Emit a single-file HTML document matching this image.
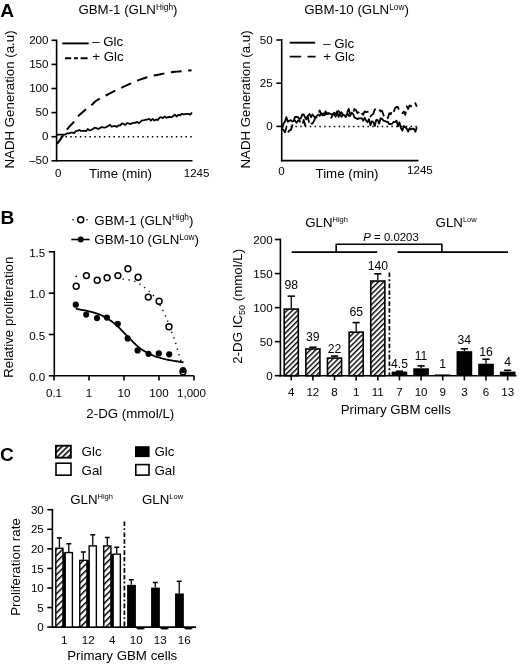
<!DOCTYPE html>
<html><head><meta charset="utf-8"><style>
html,body{margin:0;padding:0;background:#fff;}
svg{display:block;font-family:"Liberation Sans", sans-serif;filter:grayscale(1) blur(0.3px);}
text{fill:#000;}
</style></head><body>
<svg width="520" height="664" viewBox="0 0 520 664">
<rect width="520" height="664" fill="#fff"/>
<defs><pattern id="h" patternUnits="userSpaceOnUse" width="3.7" height="3.7" patternTransform="rotate(45)"><rect width="3.7" height="3.7" fill="#fff"/><rect x="0" y="0" width="1.4" height="3.7" fill="#000"/></pattern><pattern id="h2" patternUnits="userSpaceOnUse" width="4.5" height="4.5" patternTransform="rotate(45)"><rect width="4.5" height="4.5" fill="#fff"/><rect x="0" y="0" width="1.45" height="4.5" fill="#000"/></pattern><pattern id="h3" patternUnits="userSpaceOnUse" width="3.9" height="3.9" patternTransform="rotate(45)"><rect width="3.9" height="3.9" fill="#fff"/><rect x="0" y="0" width="1.55" height="3.9" fill="#000"/></pattern></defs>
<text x="0.20" y="16.80" font-size="19.2" text-anchor="start" font-weight="bold" >A</text>
<text x="0.40" y="223.90" font-size="19.2" text-anchor="start" font-weight="bold" >B</text>
<text x="0.00" y="460.60" font-size="19.2" text-anchor="start" font-weight="bold" >C</text>
<text x="78.40" y="14.00" font-size="13.3" text-anchor="start" font-weight="normal" >GBM-1 (GLN<tspan font-size="8.3" dy="-4.4">High</tspan><tspan dy="4.4">)</tspan></text>
<line x1="56.60" y1="39.60" x2="56.60" y2="161.60" stroke="#000" stroke-width="1.6" />
<line x1="55.80" y1="160.80" x2="192.50" y2="160.80" stroke="#000" stroke-width="1.6" />
<line x1="51.50" y1="40.30" x2="56.60" y2="40.30" stroke="#000" stroke-width="1.6" />
<text x="48.50" y="43.80" font-size="11.6" text-anchor="end" font-weight="normal" >200</text>
<line x1="51.50" y1="64.40" x2="56.60" y2="64.40" stroke="#000" stroke-width="1.6" />
<text x="48.50" y="67.90" font-size="11.6" text-anchor="end" font-weight="normal" >150</text>
<line x1="51.50" y1="88.50" x2="56.60" y2="88.50" stroke="#000" stroke-width="1.6" />
<text x="48.50" y="92.00" font-size="11.6" text-anchor="end" font-weight="normal" >100</text>
<line x1="51.50" y1="112.60" x2="56.60" y2="112.60" stroke="#000" stroke-width="1.6" />
<text x="48.50" y="116.10" font-size="11.6" text-anchor="end" font-weight="normal" >50</text>
<line x1="51.50" y1="136.70" x2="56.60" y2="136.70" stroke="#000" stroke-width="1.6" />
<text x="48.50" y="140.20" font-size="11.6" text-anchor="end" font-weight="normal" >0</text>
<line x1="51.50" y1="160.80" x2="56.60" y2="160.80" stroke="#000" stroke-width="1.6" />
<text x="48.50" y="164.30" font-size="11.6" text-anchor="end" font-weight="normal" >–50</text>
<text x="58.30" y="177.20" font-size="11.6" text-anchor="middle" font-weight="normal" >0</text>
<text x="196.60" y="176.60" font-size="11.6" text-anchor="middle" font-weight="normal" >1245</text>
<text x="89.00" y="178.30" font-size="13.3" text-anchor="start" font-weight="normal" >Time (min)</text>
<text x="0.00" y="0.00" font-size="13.3" text-anchor="middle" font-weight="normal" transform="translate(13.8,99.5) rotate(-90)">NADH Generation (a.u)</text>
<line x1="60.65" y1="136.70" x2="192.50" y2="136.70" stroke="#000" stroke-width="1.5" stroke-dasharray="1.5 3.3"/>
<line x1="62.30" y1="43.40" x2="88.70" y2="43.40" stroke="#000" stroke-width="1.9" />
<line x1="65.00" y1="58.20" x2="88.00" y2="58.20" stroke="#000" stroke-width="1.9" stroke-dasharray="6.2 2.7 4 2.7 7"/>
<text x="92.20" y="46.20" font-size="13.3" text-anchor="start" font-weight="normal" >– Glc</text>
<text x="92.20" y="60.80" font-size="13.3" text-anchor="start" font-weight="normal" >+ Glc</text>
<path d="M57.00,144.00 L58.06,142.54 L59.14,141.06 L60.22,139.57 L61.27,138.12 L62.28,136.72 L63.20,135.40 L63.99,134.20 L64.66,133.10 L65.28,132.06 L65.91,131.03 L66.63,129.96 L67.50,128.80 L68.58,127.52 L69.83,126.14 L71.16,124.73 L72.49,123.33 L73.73,122.00 L74.80,120.80 L75.63,119.77 L76.27,118.88 L76.82,118.06 L77.40,117.24 L78.09,116.38 L79.00,115.40 L80.21,114.25 L81.64,112.98 L83.20,111.66 L84.77,110.35 L86.24,109.14 L87.50,108.10 L88.54,107.25 L89.45,106.54 L90.26,105.93 L91.01,105.37 L91.75,104.80 L92.50,104.20 L93.14,103.60 L93.63,103.06 L94.09,102.53 L94.67,101.94 L95.53,101.25 L96.80,100.40 L98.51,99.38 L100.54,98.24 L102.85,96.99 L105.37,95.66 L108.04,94.29 L110.80,92.90 L113.76,91.43 L117.00,89.86 L120.38,88.23 L123.80,86.62 L127.15,85.09 L130.30,83.70 L133.21,82.45 L135.97,81.28 L138.65,80.19 L141.33,79.17 L144.09,78.21 L147.00,77.30 L150.17,76.44 L153.55,75.64 L157.01,74.91 L160.41,74.23 L163.62,73.63 L166.50,73.10 L168.99,72.67 L171.18,72.33 L173.18,72.06 L175.09,71.83 L176.99,71.62 L179.00,71.40 L181.09,71.18 L183.19,70.99 L185.29,70.81 L187.40,70.64 L189.50,70.48 L191.60,70.30" fill="none" stroke="#000" stroke-width="2.0" stroke-linejoin="round" stroke-dasharray="10.8 6.6"/>
<path d="M57.00,134.77 L58.71,134.72 L60.42,134.68 L62.13,134.63 L63.84,134.58 L65.54,134.53 L67.25,133.34 L68.96,133.43 L70.67,132.71 L72.38,132.72 L74.09,133.03 L75.80,131.15 L77.51,130.86 L79.22,129.97 L80.92,130.88 L82.63,130.92 L84.34,130.74 L86.05,131.17 L87.76,129.06 L89.47,130.29 L91.18,130.07 L92.89,129.08 L94.59,127.57 L96.30,128.20 L98.01,128.83 L99.72,128.33 L101.43,127.09 L103.14,127.38 L104.85,127.54 L106.56,126.88 L108.27,125.90 L109.97,124.74 L111.68,126.79 L113.39,126.08 L115.10,125.93 L116.81,126.83 L118.52,125.48 L120.23,125.28 L121.94,123.46 L123.65,124.10 L125.35,124.91 L127.06,123.00 L128.77,123.46 L130.48,124.19 L132.19,123.10 L133.90,122.83 L135.61,122.77 L137.32,121.85 L139.03,123.23 L140.73,121.54 L142.44,120.35 L144.15,120.20 L145.86,119.75 L147.57,119.48 L149.28,118.95 L150.99,120.57 L152.70,118.89 L154.41,120.59 L156.11,119.42 L157.82,120.10 L159.53,117.70 L161.24,117.24 L162.95,118.08 L164.66,116.40 L166.37,117.91 L168.08,117.05 L169.78,116.79 L171.49,117.41 L173.20,116.07 L174.91,114.73 L176.62,116.61 L178.33,114.96 L180.04,115.47 L181.75,113.82 L183.46,114.49 L185.16,114.10 L186.87,113.87 L188.58,113.90 L190.29,114.83 L192.00,112.56" fill="none" stroke="#000" stroke-width="1.8" stroke-linejoin="round" />
<text x="304.20" y="14.00" font-size="13.3" text-anchor="start" font-weight="normal" >GBM-10 (GLN<tspan font-size="8.3" dy="-4.4">Low</tspan><tspan dy="4.4">)</tspan></text>
<line x1="281.70" y1="39.10" x2="281.70" y2="161.40" stroke="#000" stroke-width="1.6" />
<line x1="280.90" y1="160.60" x2="418.50" y2="160.60" stroke="#000" stroke-width="1.6" />
<line x1="276.40" y1="40.00" x2="281.70" y2="40.00" stroke="#000" stroke-width="1.6" />
<text x="272.60" y="43.50" font-size="11.6" text-anchor="end" font-weight="normal" >50</text>
<line x1="276.40" y1="83.20" x2="281.70" y2="83.20" stroke="#000" stroke-width="1.6" />
<text x="272.60" y="86.70" font-size="11.6" text-anchor="end" font-weight="normal" >25</text>
<line x1="276.40" y1="126.40" x2="281.70" y2="126.40" stroke="#000" stroke-width="1.6" />
<text x="272.60" y="129.90" font-size="11.6" text-anchor="end" font-weight="normal" >0</text>
<text x="281.50" y="174.50" font-size="11.6" text-anchor="middle" font-weight="normal" >0</text>
<text x="419.90" y="174.20" font-size="11.6" text-anchor="middle" font-weight="normal" >1245</text>
<text x="315.50" y="178.30" font-size="13.3" text-anchor="start" font-weight="normal" >Time (min)</text>
<text x="0.00" y="0.00" font-size="13.3" text-anchor="middle" font-weight="normal" transform="translate(249.7,99.5) rotate(-90)">NADH Generation (a.u)</text>
<line x1="285.75" y1="126.40" x2="418.50" y2="126.40" stroke="#000" stroke-width="1.5" stroke-dasharray="1.5 3.3"/>
<line x1="289.70" y1="42.70" x2="315.20" y2="42.70" stroke="#000" stroke-width="1.9" />
<line x1="289.70" y1="56.60" x2="315.60" y2="56.60" stroke="#000" stroke-width="1.9" stroke-dasharray="11.5 6.4 8"/>
<text x="323.20" y="47.60" font-size="13.3" text-anchor="start" font-weight="normal" >– Glc</text>
<text x="323.20" y="61.20" font-size="13.3" text-anchor="start" font-weight="normal" >+ Glc</text>
<path d="M282.00,129.32 L283.45,123.76 L284.90,121.70 L286.35,117.13 L287.80,121.81 L289.25,120.87 L290.70,120.08 L292.15,121.30 L293.60,121.09 L295.05,116.86 L296.50,116.80 L297.95,117.17 L299.40,118.98 L300.85,118.37 L302.30,114.49 L303.75,114.51 L305.20,117.70 L306.65,118.96 L308.10,115.58 L309.55,114.00 L311.00,117.21 L312.45,114.44 L313.90,116.31 L315.35,117.77 L316.80,115.92 L318.25,114.76 L319.70,115.91 L321.15,113.24 L322.60,114.07 L324.05,113.27 L325.50,113.93 L326.95,113.34 L328.40,113.87 L329.85,113.45 L331.30,114.29 L332.75,114.20 L334.20,114.59 L335.65,116.73 L337.10,111.27 L338.55,116.82 L340.00,114.05 L341.45,112.30 L342.90,114.46 L344.35,115.11 L345.80,117.11 L347.25,113.21 L348.70,115.78 L350.15,115.76 L351.60,112.63 L353.05,113.88 L354.50,117.58 L355.95,118.06 L357.40,119.11 L358.85,118.36 L360.30,118.40 L361.75,118.18 L363.20,120.83 L364.65,117.58 L366.10,120.55 L367.55,122.20 L369.00,119.11 L370.45,125.25 L371.90,121.23 L373.35,122.18 L374.80,125.99 L376.25,119.89 L377.70,120.04 L379.15,123.59 L380.60,118.15 L382.05,118.96 L383.50,120.65 L384.95,121.02 L386.40,121.76 L387.85,121.82 L389.30,124.16 L390.75,124.01 L392.20,123.70 L393.65,121.75 L395.10,122.19 L396.55,120.65 L398.00,126.31 L399.45,122.26 L400.90,128.12 L402.35,130.68 L403.80,125.88 L405.25,127.32 L406.70,128.45 L408.15,131.56 L409.60,128.20 L411.05,129.45 L412.50,128.56 L413.95,128.93 L415.40,131.71 L416.85,127.28" fill="none" stroke="#000" stroke-width="1.8" stroke-linejoin="round" />
<path d="M282.00,128.67 L283.45,130.06 L284.90,132.37 L286.35,127.79 L287.80,132.78 L289.25,130.42 L290.70,130.16 L292.15,126.31 L293.60,120.27 L295.05,120.71 L296.50,122.86 L297.95,120.70 L299.40,120.20 L300.85,124.33 L302.30,125.02 L303.75,119.94 L305.20,125.50 L306.65,116.91 L308.10,117.61 L309.55,125.45 L311.00,123.57 L312.45,123.48 L313.90,121.21 L315.35,117.65 L316.80,117.39 L318.25,114.36 L319.70,110.32 L321.15,114.53 L322.60,114.45 L324.05,118.40 L325.50,111.29 L326.95,114.04 L328.40,112.98 L329.85,113.68 L331.30,117.90 L332.75,114.73 L334.20,112.61 L335.65,113.99 L337.10,115.37 L338.55,111.04 L340.00,112.70 L341.45,116.94 L342.90,115.19 L344.35,112.94 L345.80,111.77 L347.25,112.41 L348.70,108.91 L350.15,114.75 L351.60,113.16 L353.05,112.53 L354.50,108.94 L355.95,110.19 L357.40,112.99 L358.85,112.23 L360.30,110.40 L361.75,113.25 L363.20,114.75 L364.65,111.32 L366.10,112.12 L367.55,111.75 L369.00,111.52 L370.45,116.28 L371.90,114.85 L373.35,113.70 L374.80,109.33 L376.25,108.90 L377.70,110.50 L379.15,109.12 L380.60,111.52 L382.05,110.68 L383.50,115.04 L384.95,118.91 L386.40,118.83 L387.85,117.97 L389.30,113.26 L390.75,114.29 L392.20,110.16 L393.65,112.25 L395.10,108.12 L396.55,106.84 L398.00,107.12 L399.45,111.74 L400.90,112.11 L402.35,113.30 L403.80,111.51 L405.25,114.91 L406.70,106.28 L408.15,108.97 L409.60,105.34 L411.05,106.35 L412.50,105.87 L413.95,102.55 L415.40,103.29 L416.85,106.75" fill="none" stroke="#000" stroke-width="1.8" stroke-linejoin="round" stroke-dasharray="10 5"/>
<line x1="54.30" y1="251.02" x2="54.30" y2="376.60" stroke="#000" stroke-width="1.6" />
<line x1="53.50" y1="375.80" x2="194.20" y2="375.80" stroke="#000" stroke-width="1.6" />
<line x1="48.80" y1="375.80" x2="54.30" y2="375.80" stroke="#000" stroke-width="1.6" />
<text x="45.30" y="380.90" font-size="11.6" text-anchor="end" font-weight="normal" >0.0</text>
<line x1="48.80" y1="334.48" x2="54.30" y2="334.48" stroke="#000" stroke-width="1.6" />
<text x="45.30" y="339.58" font-size="11.6" text-anchor="end" font-weight="normal" >0.5</text>
<line x1="48.80" y1="293.15" x2="54.30" y2="293.15" stroke="#000" stroke-width="1.6" />
<text x="45.30" y="298.25" font-size="11.6" text-anchor="end" font-weight="normal" >1.0</text>
<line x1="48.80" y1="251.82" x2="54.30" y2="251.82" stroke="#000" stroke-width="1.6" />
<text x="45.30" y="256.93" font-size="11.6" text-anchor="end" font-weight="normal" >1.5</text>
<line x1="54.00" y1="375.80" x2="54.00" y2="380.60" stroke="#000" stroke-width="1.6" />
<text x="54.00" y="397.00" font-size="11.6" text-anchor="middle" font-weight="normal" >0.1</text>
<line x1="89.00" y1="375.80" x2="89.00" y2="380.60" stroke="#000" stroke-width="1.6" />
<text x="89.00" y="397.00" font-size="11.6" text-anchor="middle" font-weight="normal" >1</text>
<line x1="124.00" y1="375.80" x2="124.00" y2="380.60" stroke="#000" stroke-width="1.6" />
<text x="124.00" y="397.00" font-size="11.6" text-anchor="middle" font-weight="normal" >10</text>
<line x1="159.00" y1="375.80" x2="159.00" y2="380.60" stroke="#000" stroke-width="1.6" />
<text x="159.00" y="397.00" font-size="11.6" text-anchor="middle" font-weight="normal" >100</text>
<line x1="194.00" y1="375.80" x2="194.00" y2="380.60" stroke="#000" stroke-width="1.6" />
<text x="191.50" y="397.00" font-size="11.6" text-anchor="middle" font-weight="normal" >1,000</text>
<text x="130.30" y="418.40" font-size="13.3" text-anchor="middle" font-weight="normal" >2-DG (mmol/L)</text>
<text x="0.00" y="0.00" font-size="13.3" text-anchor="middle" font-weight="normal" transform="translate(13.4,317.2) rotate(-90)">Relative proliferation</text>
<circle cx="73" cy="219.8" r="0.8" fill="#000"/><circle cx="87" cy="219.8" r="0.8" fill="#000"/>
<circle cx="80.7" cy="219.8" r="3.0" fill="#fff" stroke="#000" stroke-width="1.5"/>
<line x1="71.30" y1="239.50" x2="89.60" y2="239.50" stroke="#000" stroke-width="1.6" />
<circle cx="80.7" cy="239.5" r="3" fill="#000"/>
<text x="94.30" y="224.60" font-size="13.3" text-anchor="start" font-weight="normal" >GBM-1 (GLN<tspan font-size="8.3" dy="-4.4">High</tspan><tspan dy="4.4">)</tspan></text>
<text x="94.30" y="244.30" font-size="13.3" text-anchor="start" font-weight="normal" >GBM-10 (GLN<tspan font-size="8.3" dy="-4.4">Low</tspan><tspan dy="4.4">)</tspan></text>
<path d="M75.80,308.80 L78.00,309.23 L80.26,309.65 L82.54,310.06 L84.81,310.48 L87.04,310.91 L89.18,311.35 L91.22,311.81 L93.10,312.30 L94.81,312.80 L96.38,313.29 L97.83,313.79 L99.21,314.31 L100.54,314.87 L101.85,315.48 L103.20,316.15 L104.60,316.90 L106.05,317.72 L107.50,318.60 L108.95,319.53 L110.40,320.52 L111.85,321.56 L113.30,322.65 L114.75,323.80 L116.20,325.00 L117.64,326.28 L119.08,327.65 L120.52,329.08 L121.96,330.56 L123.39,332.07 L124.83,333.57 L126.26,335.06 L127.70,336.50 L129.14,337.94 L130.57,339.40 L132.01,340.88 L133.44,342.34 L134.88,343.76 L136.32,345.13 L137.76,346.42 L139.20,347.60 L140.65,348.68 L142.10,349.69 L143.55,350.62 L145.00,351.49 L146.45,352.31 L147.90,353.08 L149.35,353.80 L150.80,354.50 L152.24,355.15 L153.68,355.74 L155.12,356.29 L156.55,356.79 L157.98,357.25 L159.42,357.69 L160.86,358.10 L162.30,358.50 L163.76,358.87 L165.24,359.21 L166.73,359.52 L168.22,359.80 L169.69,360.06 L171.14,360.31 L172.55,360.56 L173.90,360.80 L175.20,361.03 L176.44,361.25 L177.65,361.45 L178.82,361.64 L179.99,361.83 L181.15,362.02 L182.31,362.20 L183.50,362.40" fill="none" stroke="#000" stroke-width="1.8" stroke-linejoin="round" />
<circle cx="76.2" cy="276.4" r="0.8" fill="#000"/>
<path d="M122.60,279.00 L122.95,279.05 L123.28,279.09 L123.59,279.12 L123.91,279.16 L124.26,279.21 L124.64,279.26 L125.08,279.32 L125.60,279.40 L126.21,279.49 L126.91,279.59 L127.67,279.70 L128.46,279.81 L129.28,279.94 L130.09,280.08 L130.87,280.23 L131.60,280.40 L132.28,280.57 L132.94,280.74 L133.57,280.92 L134.19,281.11 L134.82,281.32 L135.46,281.57 L136.11,281.86 L136.80,282.20 L137.52,282.60 L138.26,283.04 L139.02,283.53 L139.79,284.06 L140.57,284.60 L141.35,285.16 L142.13,285.73 L142.90,286.30 L143.67,286.87 L144.45,287.46 L145.23,288.06 L146.01,288.68 L146.78,289.30 L147.54,289.93 L148.28,290.56 L149.00,291.20 L149.68,291.81 L150.33,292.38 L150.95,292.94 L151.56,293.51 L152.17,294.13 L152.81,294.81 L153.48,295.60 L154.20,296.50 L154.98,297.53 L155.80,298.66 L156.66,299.88 L157.54,301.17 L158.43,302.53 L159.31,303.93 L160.17,305.35 L161.00,306.80 L161.81,308.30 L162.61,309.87 L163.41,311.50 L164.20,313.16 L164.97,314.83 L165.71,316.49 L166.42,318.12 L167.10,319.70 L167.74,321.25 L168.34,322.79 L168.92,324.33 L169.47,325.84 L170.00,327.33 L170.51,328.77 L171.01,330.17 L171.50,331.50 L171.98,332.76 L172.44,333.95 L172.88,335.08 L173.31,336.18 L173.73,337.25 L174.13,338.32 L174.52,339.39 L174.90,340.50 L175.26,341.63 L175.61,342.75 L175.93,343.88 L176.25,345.01 L176.56,346.13 L176.87,347.26 L177.18,348.38 L177.50,349.50 L177.83,350.63 L178.15,351.77 L178.48,352.92 L178.81,354.07 L179.14,355.20 L179.46,356.30 L179.78,357.37 L180.10,358.40 L180.41,359.37 L180.71,360.30 L181.01,361.19 L181.31,362.06 L181.61,362.92 L181.90,363.77 L182.20,364.62 L182.50,365.50" fill="none" stroke="#000" stroke-width="1.4" stroke-linejoin="round" stroke-dasharray="1.3 4.6"/>
<circle cx="75.8" cy="304.7" r="3.1" fill="#000"/>
<circle cx="86.2" cy="314.6" r="3.1" fill="#000"/>
<circle cx="97" cy="318.1" r="3.1" fill="#000"/>
<circle cx="106.9" cy="317.6" r="3.1" fill="#000"/>
<circle cx="117.8" cy="323.8" r="3.1" fill="#000"/>
<circle cx="127.7" cy="338.4" r="3.1" fill="#000"/>
<circle cx="137.6" cy="350.4" r="3.1" fill="#000"/>
<circle cx="148.5" cy="353.8" r="3.1" fill="#000"/>
<circle cx="158.8" cy="353.4" r="3.1" fill="#000"/>
<circle cx="169.2" cy="354.3" r="3.1" fill="#000"/>
<circle cx="183.1" cy="370" r="3.1" fill="#000"/>
<circle cx="76.2" cy="286.3" r="2.95" fill="#fff" fill-opacity="1" stroke="#000" stroke-width="1.5"/>
<circle cx="86.4" cy="275.6" r="2.95" fill="#fff" fill-opacity="1" stroke="#000" stroke-width="1.5"/>
<circle cx="97.2" cy="280.2" r="2.95" fill="#fff" fill-opacity="1" stroke="#000" stroke-width="1.5"/>
<circle cx="107.1" cy="277.7" r="2.95" fill="#fff" fill-opacity="1" stroke="#000" stroke-width="1.5"/>
<circle cx="117.9" cy="275.6" r="2.95" fill="#fff" fill-opacity="1" stroke="#000" stroke-width="1.5"/>
<circle cx="127.9" cy="268.8" r="2.95" fill="#fff" fill-opacity="1" stroke="#000" stroke-width="1.5"/>
<circle cx="138.1" cy="277.2" r="2.95" fill="#fff" fill-opacity="1" stroke="#000" stroke-width="1.5"/>
<circle cx="148.3" cy="297.1" r="2.95" fill="#fff" fill-opacity="1" stroke="#000" stroke-width="1.5"/>
<circle cx="159.1" cy="301.2" r="2.95" fill="#fff" fill-opacity="1" stroke="#000" stroke-width="1.5"/>
<circle cx="169" cy="326.7" r="2.95" fill="#fff" fill-opacity="1" stroke="#000" stroke-width="1.5"/>
<circle cx="183" cy="371.7" r="2.95" fill="#fff" fill-opacity="0" stroke="#000" stroke-width="1.5"/>
<line x1="280.40" y1="238.70" x2="280.40" y2="376.50" stroke="#000" stroke-width="1.6" />
<line x1="279.60" y1="375.70" x2="516.50" y2="375.70" stroke="#000" stroke-width="1.6" />
<line x1="274.80" y1="375.70" x2="280.40" y2="375.70" stroke="#000" stroke-width="1.6" />
<text x="272.70" y="380.30" font-size="11.6" text-anchor="end" font-weight="normal" >0</text>
<line x1="274.80" y1="341.65" x2="280.40" y2="341.65" stroke="#000" stroke-width="1.6" />
<text x="272.70" y="346.25" font-size="11.6" text-anchor="end" font-weight="normal" >50</text>
<line x1="274.80" y1="307.60" x2="280.40" y2="307.60" stroke="#000" stroke-width="1.6" />
<text x="272.70" y="312.20" font-size="11.6" text-anchor="end" font-weight="normal" >100</text>
<line x1="274.80" y1="273.55" x2="280.40" y2="273.55" stroke="#000" stroke-width="1.6" />
<text x="272.70" y="278.15" font-size="11.6" text-anchor="end" font-weight="normal" >150</text>
<line x1="274.80" y1="239.50" x2="280.40" y2="239.50" stroke="#000" stroke-width="1.6" />
<text x="272.70" y="244.10" font-size="11.6" text-anchor="end" font-weight="normal" >200</text>
<text x="0.00" y="0.00" font-size="13.3" text-anchor="middle" font-weight="normal" transform="translate(242.2,306.3) rotate(-90)">2-DG IC<tspan font-size="9" dy="2.5">50</tspan><tspan dy="-2.5"> (mmol/L)</tspan></text>
<text x="395.80" y="414.30" font-size="13.3" text-anchor="middle" font-weight="normal" >Primary GBM cells</text>
<text x="305.20" y="226.50" font-size="13.3" text-anchor="start" font-weight="normal" >GLN<tspan font-size="7.5" dy="-4.2">High</tspan></text>
<text x="435.60" y="226.50" font-size="13.3" text-anchor="start" font-weight="normal" >GLN<tspan font-size="7.5" dy="-4.2">Low</tspan></text>
<path d="M291.70,252.10 L377.20,252.10" fill="none" stroke="#000" stroke-width="1.6" stroke-linejoin="round" />
<path d="M397.50,252.10 L508.00,252.10" fill="none" stroke="#000" stroke-width="1.6" stroke-linejoin="round" />
<path d="M336.20,252.10 L336.20,244.30 L441.90,244.30 L441.90,252.10" fill="none" stroke="#000" stroke-width="1.6" stroke-linejoin="round" />
<text x="363.30" y="240.60" font-size="11.4" text-anchor="start" font-weight="normal" ><tspan font-style="italic">P</tspan> = 0.0203</text>
<line x1="291.25" y1="296.16" x2="291.25" y2="308.28" stroke="#000" stroke-width="1.3" />
<line x1="287.65" y1="296.16" x2="294.85" y2="296.16" stroke="#000" stroke-width="1.6" />
<rect x="284.20" y="309.08" width="14.10" height="66.62" fill="url(#h)" stroke="#000" stroke-width="1.6" />
<line x1="291.25" y1="375.70" x2="291.25" y2="380.40" stroke="#000" stroke-width="1.6" />
<text x="291.25" y="395.90" font-size="11.6" text-anchor="middle" font-weight="normal" >4</text>
<text x="291.25" y="289.00" font-size="12.2" text-anchor="middle" font-weight="normal" >98</text>
<line x1="312.89" y1="347.23" x2="312.89" y2="348.19" stroke="#000" stroke-width="1.3" />
<line x1="309.29" y1="347.23" x2="316.49" y2="347.23" stroke="#000" stroke-width="1.6" />
<rect x="305.84" y="348.99" width="14.10" height="26.71" fill="url(#h)" stroke="#000" stroke-width="1.6" />
<line x1="312.89" y1="375.70" x2="312.89" y2="380.40" stroke="#000" stroke-width="1.6" />
<text x="312.89" y="395.90" font-size="11.6" text-anchor="middle" font-weight="normal" >12</text>
<text x="312.89" y="341.00" font-size="12.2" text-anchor="middle" font-weight="normal" >39</text>
<line x1="334.53" y1="356.09" x2="334.53" y2="357.31" stroke="#000" stroke-width="1.3" />
<line x1="330.93" y1="356.09" x2="338.13" y2="356.09" stroke="#000" stroke-width="1.6" />
<rect x="327.48" y="358.11" width="14.10" height="17.59" fill="url(#h)" stroke="#000" stroke-width="1.6" />
<line x1="334.53" y1="375.70" x2="334.53" y2="380.40" stroke="#000" stroke-width="1.6" />
<text x="334.53" y="395.90" font-size="11.6" text-anchor="middle" font-weight="normal" >8</text>
<text x="334.53" y="352.50" font-size="12.2" text-anchor="middle" font-weight="normal" >22</text>
<line x1="356.17" y1="322.58" x2="356.17" y2="331.37" stroke="#000" stroke-width="1.3" />
<line x1="352.57" y1="322.58" x2="359.77" y2="322.58" stroke="#000" stroke-width="1.6" />
<rect x="349.12" y="332.17" width="14.10" height="43.53" fill="url(#h)" stroke="#000" stroke-width="1.6" />
<line x1="356.17" y1="375.70" x2="356.17" y2="380.40" stroke="#000" stroke-width="1.6" />
<text x="356.17" y="395.90" font-size="11.6" text-anchor="middle" font-weight="normal" >1</text>
<text x="356.17" y="315.80" font-size="12.2" text-anchor="middle" font-weight="normal" >65</text>
<line x1="377.81" y1="273.82" x2="377.81" y2="280.22" stroke="#000" stroke-width="1.3" />
<line x1="374.21" y1="273.82" x2="381.41" y2="273.82" stroke="#000" stroke-width="1.6" />
<rect x="370.76" y="281.02" width="14.10" height="94.68" fill="url(#h)" stroke="#000" stroke-width="1.6" />
<line x1="377.81" y1="375.70" x2="377.81" y2="380.40" stroke="#000" stroke-width="1.6" />
<text x="377.81" y="395.90" font-size="11.6" text-anchor="middle" font-weight="normal" >11</text>
<text x="377.81" y="269.90" font-size="12.2" text-anchor="middle" font-weight="normal" >140</text>
<line x1="399.45" y1="371.21" x2="399.45" y2="371.61" stroke="#000" stroke-width="1.3" />
<line x1="395.85" y1="371.21" x2="403.05" y2="371.21" stroke="#000" stroke-width="1.6" />
<rect x="391.60" y="371.61" width="15.70" height="4.09" fill="#000" />
<line x1="399.45" y1="375.70" x2="399.45" y2="380.40" stroke="#000" stroke-width="1.6" />
<text x="399.45" y="395.90" font-size="11.6" text-anchor="middle" font-weight="normal" >7</text>
<text x="399.45" y="368.00" font-size="12.2" text-anchor="middle" font-weight="normal" >4.5</text>
<line x1="421.09" y1="365.89" x2="421.09" y2="368.28" stroke="#000" stroke-width="1.3" />
<line x1="417.49" y1="365.89" x2="424.69" y2="365.89" stroke="#000" stroke-width="1.6" />
<rect x="413.24" y="368.28" width="15.70" height="7.42" fill="#000" />
<line x1="421.09" y1="375.70" x2="421.09" y2="380.40" stroke="#000" stroke-width="1.6" />
<text x="421.09" y="395.90" font-size="11.6" text-anchor="middle" font-weight="normal" >10</text>
<text x="421.09" y="360.20" font-size="12.2" text-anchor="middle" font-weight="normal" >11</text>
<rect x="434.88" y="374.47" width="15.70" height="1.23" fill="#000" />
<line x1="442.73" y1="375.70" x2="442.73" y2="380.40" stroke="#000" stroke-width="1.6" />
<text x="442.73" y="395.90" font-size="11.6" text-anchor="middle" font-weight="normal" >9</text>
<text x="442.73" y="368.00" font-size="12.2" text-anchor="middle" font-weight="normal" >1</text>
<line x1="464.37" y1="348.80" x2="464.37" y2="351.18" stroke="#000" stroke-width="1.3" />
<line x1="460.77" y1="348.80" x2="467.97" y2="348.80" stroke="#000" stroke-width="1.6" />
<rect x="456.52" y="351.18" width="15.70" height="24.52" fill="#000" />
<line x1="464.37" y1="375.70" x2="464.37" y2="380.40" stroke="#000" stroke-width="1.6" />
<text x="464.37" y="395.90" font-size="11.6" text-anchor="middle" font-weight="normal" >3</text>
<text x="464.37" y="344.00" font-size="12.2" text-anchor="middle" font-weight="normal" >34</text>
<line x1="486.01" y1="359.22" x2="486.01" y2="363.71" stroke="#000" stroke-width="1.3" />
<line x1="482.41" y1="359.22" x2="489.61" y2="359.22" stroke="#000" stroke-width="1.6" />
<rect x="478.16" y="363.71" width="15.70" height="11.99" fill="#000" />
<line x1="486.01" y1="375.70" x2="486.01" y2="380.40" stroke="#000" stroke-width="1.6" />
<text x="486.01" y="395.90" font-size="11.6" text-anchor="middle" font-weight="normal" >6</text>
<text x="486.01" y="356.20" font-size="12.2" text-anchor="middle" font-weight="normal" >16</text>
<line x1="507.65" y1="370.32" x2="507.65" y2="371.61" stroke="#000" stroke-width="1.3" />
<line x1="504.05" y1="370.32" x2="511.25" y2="370.32" stroke="#000" stroke-width="1.6" />
<rect x="499.80" y="371.61" width="15.70" height="4.09" fill="#000" />
<line x1="507.65" y1="375.70" x2="507.65" y2="380.40" stroke="#000" stroke-width="1.6" />
<text x="507.65" y="395.90" font-size="11.6" text-anchor="middle" font-weight="normal" >13</text>
<text x="507.65" y="366.00" font-size="12.2" text-anchor="middle" font-weight="normal" >4</text>
<line x1="389.40" y1="272.60" x2="389.40" y2="375.00" stroke="#000" stroke-width="1.7" stroke-dasharray="4.5 2.2 1.9 2.3 4.7 2.2"/>
<line x1="52.40" y1="508.91" x2="52.40" y2="627.90" stroke="#000" stroke-width="1.6" />
<line x1="51.60" y1="627.10" x2="196.00" y2="627.10" stroke="#000" stroke-width="1.6" />
<line x1="47.30" y1="627.10" x2="52.40" y2="627.10" stroke="#000" stroke-width="1.6" />
<text x="43.80" y="631.30" font-size="11.6" text-anchor="end" font-weight="normal" >0</text>
<line x1="47.30" y1="607.54" x2="52.40" y2="607.54" stroke="#000" stroke-width="1.6" />
<text x="43.80" y="611.74" font-size="11.6" text-anchor="end" font-weight="normal" >5</text>
<line x1="47.30" y1="587.97" x2="52.40" y2="587.97" stroke="#000" stroke-width="1.6" />
<text x="43.80" y="592.17" font-size="11.6" text-anchor="end" font-weight="normal" >10</text>
<line x1="47.30" y1="568.40" x2="52.40" y2="568.40" stroke="#000" stroke-width="1.6" />
<text x="43.80" y="572.61" font-size="11.6" text-anchor="end" font-weight="normal" >15</text>
<line x1="47.30" y1="548.84" x2="52.40" y2="548.84" stroke="#000" stroke-width="1.6" />
<text x="43.80" y="553.04" font-size="11.6" text-anchor="end" font-weight="normal" >20</text>
<line x1="47.30" y1="529.28" x2="52.40" y2="529.28" stroke="#000" stroke-width="1.6" />
<text x="43.80" y="533.48" font-size="11.6" text-anchor="end" font-weight="normal" >25</text>
<line x1="47.30" y1="509.71" x2="52.40" y2="509.71" stroke="#000" stroke-width="1.6" />
<text x="43.80" y="513.91" font-size="11.6" text-anchor="end" font-weight="normal" >30</text>
<text x="0.00" y="0.00" font-size="13.3" text-anchor="middle" font-weight="normal" transform="translate(19.5,567) rotate(-90)">Proliferation rate</text>
<text x="122.20" y="660.00" font-size="13.3" text-anchor="middle" font-weight="normal" >Primary GBM cells</text>
<text x="70.20" y="503.60" font-size="13.3" text-anchor="start" font-weight="normal" >GLN<tspan font-size="7.5" dy="-4.2">High</tspan></text>
<text x="142.00" y="503.60" font-size="13.3" text-anchor="start" font-weight="normal" >GLN<tspan font-size="7.5" dy="-4.2">Low</tspan></text>
<rect x="55.90" y="445.70" width="15.00" height="12.00" fill="url(#h3)" stroke="#000" stroke-width="1.8" />
<rect x="56.00" y="463.20" width="15.00" height="12.00" fill="#fff" stroke="#000" stroke-width="1.6" />
<text x="81.60" y="456.20" font-size="13.3" text-anchor="start" font-weight="normal" >Glc</text>
<text x="81.60" y="474.80" font-size="13.3" text-anchor="start" font-weight="normal" >Gal</text>
<rect x="135.00" y="446.20" width="14.60" height="10.90" fill="#000" />
<rect x="135.80" y="464.60" width="13.20" height="10.50" fill="#fff" stroke="#000" stroke-width="1.6" />
<text x="154.50" y="456.20" font-size="13.3" text-anchor="start" font-weight="normal" >Glc</text>
<text x="154.50" y="474.80" font-size="13.3" text-anchor="start" font-weight="normal" >Gal</text>
<line x1="59.40" y1="537.88" x2="59.40" y2="547.67" stroke="#000" stroke-width="1.3" />
<line x1="56.90" y1="537.88" x2="61.90" y2="537.88" stroke="#000" stroke-width="1.5" />
<rect x="55.80" y="548.27" width="7.20" height="78.83" fill="url(#h2)" stroke="#000" stroke-width="1.4" />
<line x1="68.80" y1="543.75" x2="68.80" y2="551.97" stroke="#000" stroke-width="1.3" />
<line x1="66.30" y1="543.75" x2="71.30" y2="543.75" stroke="#000" stroke-width="1.5" />
<rect x="65.20" y="552.57" width="7.20" height="74.53" fill="#fff" stroke="#000" stroke-width="1.4" />
<rect x="62.80" y="552.47" width="2.40" height="74.63" fill="#000" />
<text x="64.30" y="643.80" font-size="11.6" text-anchor="middle" font-weight="normal" >1</text>
<line x1="83.37" y1="551.97" x2="83.37" y2="559.80" stroke="#000" stroke-width="1.3" />
<line x1="80.87" y1="551.97" x2="85.87" y2="551.97" stroke="#000" stroke-width="1.5" />
<rect x="79.77" y="560.40" width="7.20" height="66.70" fill="url(#h2)" stroke="#000" stroke-width="1.4" />
<line x1="92.77" y1="534.75" x2="92.77" y2="545.32" stroke="#000" stroke-width="1.3" />
<line x1="90.27" y1="534.75" x2="95.27" y2="534.75" stroke="#000" stroke-width="1.5" />
<rect x="89.17" y="545.92" width="7.20" height="81.18" fill="#fff" stroke="#000" stroke-width="1.4" />
<rect x="86.77" y="560.30" width="2.40" height="66.80" fill="#000" />
<text x="88.27" y="643.80" font-size="11.6" text-anchor="middle" font-weight="normal" >12</text>
<line x1="107.34" y1="537.49" x2="107.34" y2="545.32" stroke="#000" stroke-width="1.3" />
<line x1="104.84" y1="537.49" x2="109.84" y2="537.49" stroke="#000" stroke-width="1.5" />
<rect x="103.74" y="545.92" width="7.20" height="81.18" fill="url(#h2)" stroke="#000" stroke-width="1.4" />
<line x1="116.74" y1="547.27" x2="116.74" y2="553.54" stroke="#000" stroke-width="1.3" />
<line x1="114.24" y1="547.27" x2="119.24" y2="547.27" stroke="#000" stroke-width="1.5" />
<rect x="113.14" y="554.14" width="7.20" height="72.96" fill="#fff" stroke="#000" stroke-width="1.4" />
<rect x="110.74" y="554.04" width="2.40" height="73.06" fill="#000" />
<text x="112.24" y="643.80" font-size="11.6" text-anchor="middle" font-weight="normal" >4</text>
<line x1="131.31" y1="579.75" x2="131.31" y2="584.84" stroke="#000" stroke-width="1.3" />
<line x1="128.81" y1="579.75" x2="133.81" y2="579.75" stroke="#000" stroke-width="1.5" />
<rect x="127.11" y="584.84" width="8.80" height="42.26" fill="#000" />
<ellipse cx="140.51" cy="628.30" rx="4.20" ry="1.3" fill="#000"/>
<text x="136.21" y="643.80" font-size="11.6" text-anchor="middle" font-weight="normal" >10</text>
<line x1="155.28" y1="582.49" x2="155.28" y2="587.58" stroke="#000" stroke-width="1.3" />
<line x1="152.78" y1="582.49" x2="157.78" y2="582.49" stroke="#000" stroke-width="1.5" />
<rect x="151.08" y="587.58" width="8.80" height="39.52" fill="#000" />
<ellipse cx="164.48" cy="628.30" rx="4.20" ry="1.3" fill="#000"/>
<text x="160.18" y="643.80" font-size="11.6" text-anchor="middle" font-weight="normal" >13</text>
<line x1="179.25" y1="581.32" x2="179.25" y2="593.45" stroke="#000" stroke-width="1.3" />
<line x1="176.75" y1="581.32" x2="181.75" y2="581.32" stroke="#000" stroke-width="1.5" />
<rect x="175.05" y="593.45" width="8.80" height="33.65" fill="#000" />
<ellipse cx="188.45" cy="628.30" rx="4.20" ry="1.3" fill="#000"/>
<text x="184.15" y="643.80" font-size="11.6" text-anchor="middle" font-weight="normal" >16</text>
<line x1="124.40" y1="521.50" x2="124.40" y2="626.50" stroke="#000" stroke-width="1.7" stroke-dasharray="4.5 2.2 1.9 2.3 4.7 2.2"/>
</svg></body></html>
